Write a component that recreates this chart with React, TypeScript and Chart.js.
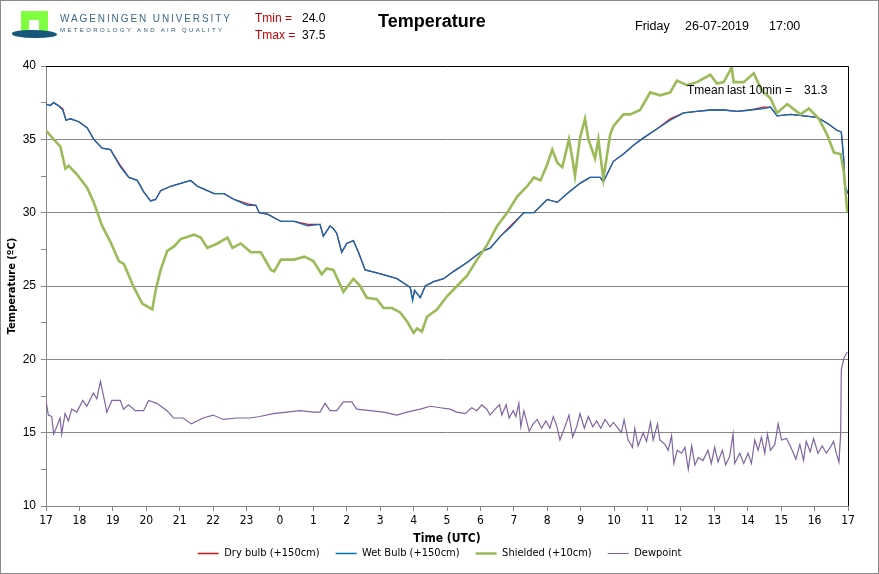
import { useEffect, useRef } from 'react';
import { Chart, registerables } from 'chart.js';

Chart.register(...registerables);

// x positions are hours since 17:00 of the previous day
const hourLabels = ['17', '18', '19', '20', '21', '22', '23', '0', '1', '2', '3', '4', '5', '6', '7', '8', '9', '10', '11', '12', '13', '14', '15', '16', '17'];

const bulbHours = [0, 0.12, 0.23, 0.37, 0.5, 0.6, 0.73, 0.98, 1.23, 1.43, 1.68, 1.93, 2.23, 2.48, 2.73, 2.93, 3.13, 3.28, 3.43, 3.73, 4.03, 4.33, 4.53, 4.73, 5.03, 5.33, 5.63, 6.03, 6.28, 6.38, 6.63, 7.03, 7.43, 7.83, 8.2, 8.3, 8.5, 8.6, 8.7, 8.85, 9.0, 9.2, 9.35, 9.55, 9.9, 10.2, 10.5, 10.7, 10.9, 10.97, 11.03, 11.2, 11.35, 11.6, 11.9, 12.2, 12.6, 13.0, 13.3, 13.6, 13.9, 14.3, 14.6, 15.0, 15.3, 15.6, 15.98, 16.28, 16.58, 16.68, 16.98, 17.28, 17.58, 17.88, 18.28, 18.68, 19.08, 19.48, 19.88, 20.28, 20.68, 21.08, 21.48, 21.68, 21.88, 22.28, 22.68, 23.08, 23.38, 23.68, 23.8, 23.87, 23.9, 24.0];
const dryBulb = [37.4, 37.3, 37.5, 37.3, 37.1, 36.3, 36.4, 36.2, 35.8, 35.0, 34.4, 34.3, 33.2, 32.4, 32.2, 31.4, 30.8, 30.9, 31.5, 31.8, 32.0, 32.2, 31.8, 31.6, 31.3, 31.3, 30.9, 30.6, 30.5, 30.0, 29.9, 29.4, 29.4, 29.2, 29.2, 28.4, 29.1, 28.9, 28.6, 27.3, 27.9, 28.1, 27.3, 26.1, 25.9, 25.7, 25.5, 25.2, 24.9, 24.1, 24.7, 24.2, 25.0, 25.3, 25.5, 26.0, 26.6, 27.3, 27.6, 28.4, 29.1, 30.0, 30.0, 30.9, 30.7, 31.3, 32.0, 32.4, 32.4, 32.1, 33.5, 34.0, 34.6, 35.1, 35.7, 36.4, 36.8, 36.9, 37.0, 37.0, 36.9, 37.0, 37.2, 37.2, 36.6, 36.7, 36.6, 36.5, 36.1, 35.6, 35.5, 33.7, 31.8, 31.3];
const wetBulb = [37.4, 37.3, 37.5, 37.3, 37.0, 36.3, 36.4, 36.2, 35.8, 35.0, 34.4, 34.3, 33.1, 32.4, 32.2, 31.4, 30.8, 30.9, 31.5, 31.8, 32.0, 32.2, 31.8, 31.6, 31.3, 31.3, 30.9, 30.5, 30.5, 30.0, 29.9, 29.4, 29.4, 29.1, 29.2, 28.4, 29.1, 28.9, 28.6, 27.3, 27.9, 28.1, 27.3, 26.1, 25.9, 25.7, 25.5, 25.2, 24.9, 24.0, 24.7, 24.2, 25.0, 25.3, 25.5, 26.0, 26.6, 27.3, 27.6, 28.4, 29.0, 30.0, 30.0, 30.9, 30.7, 31.3, 32.0, 32.4, 32.4, 32.1, 33.5, 34.0, 34.6, 35.1, 35.7, 36.3, 36.8, 36.9, 37.0, 37.0, 36.9, 37.0, 37.1, 37.2, 36.6, 36.7, 36.6, 36.5, 36.1, 35.6, 35.5, 33.7, 31.9, 31.3];

const shieldHours = [0, 0.23, 0.43, 0.58, 0.68, 0.93, 1.23, 1.43, 1.68, 1.93, 2.18, 2.33, 2.63, 2.88, 3.18, 3.28, 3.43, 3.63, 3.83, 4.03, 4.43, 4.63, 4.83, 5.13, 5.43, 5.58, 5.83, 6.13, 6.43, 6.73, 6.83, 7.03, 7.43, 7.73, 8.0, 8.25, 8.4, 8.6, 8.9, 9.2, 9.4, 9.6, 9.9, 10.1, 10.35, 10.6, 10.8, 11.0, 11.1, 11.25, 11.4, 11.7, 12.0, 12.3, 12.6, 12.9, 13.2, 13.5, 13.8, 14.1, 14.4, 14.6, 14.8, 15.0, 15.15, 15.3, 15.45, 15.65, 15.75, 15.83, 15.98, 16.13, 16.23, 16.43, 16.53, 16.68, 16.88, 16.98, 17.28, 17.48, 17.78, 18.08, 18.38, 18.68, 18.88, 19.18, 19.48, 19.88, 20.08, 20.28, 20.52, 20.58, 20.88, 21.18, 21.43, 21.68, 21.88, 22.18, 22.58, 22.83, 23.13, 23.38, 23.58, 23.78, 23.88, 23.98];
const shielded = [35.6, 35.0, 34.5, 33.0, 33.2, 32.6, 31.7, 30.7, 29.1, 28.0, 26.7, 26.5, 24.9, 23.8, 23.4, 24.7, 26.1, 27.4, 27.7, 28.2, 28.5, 28.3, 27.6, 27.9, 28.3, 27.6, 27.9, 27.3, 27.3, 26.1, 26.0, 26.8, 26.8, 27.0, 26.7, 25.8, 26.2, 26.1, 24.6, 25.5, 25.0, 24.2, 24.1, 23.5, 23.5, 23.2, 22.6, 21.8, 22.1, 21.9, 22.9, 23.4, 24.3, 25.0, 25.7, 26.8, 27.8, 29.1, 30.0, 31.1, 31.8, 32.4, 32.2, 33.3, 34.3, 33.4, 33.1, 35.0, 33.7, 32.5, 35.1, 36.4, 35.0, 33.7, 35.0, 32.3, 35.3, 35.9, 36.7, 36.7, 37.0, 38.2, 38.0, 38.2, 39.0, 38.7, 38.9, 39.4, 38.8, 38.9, 39.9, 38.9, 38.9, 39.5, 38.3, 37.8, 36.8, 37.4, 36.7, 37.1, 36.4, 35.3, 34.1, 34.0, 32.7, 30.0];

const dewHours = [
  0, 0.07, 0.17, 0.23, 0.32, 0.42, 0.47, 0.57, 0.67, 0.77, 0.92, 1.1, 1.22, 1.42, 1.52, 1.63, 1.73, 1.82, 1.97, 2.22, 2.32, 2.47, 2.67, 2.92, 3.07, 3.32, 3.62, 3.82, 4.1, 4.35, 4.7, 5.0, 5.3, 5.7, 6.1, 6.4, 6.8, 7.2, 7.6, 8.0, 8.2, 8.35, 8.5, 8.7, 8.9, 9.15, 9.3, 9.7, 10.1, 10.5, 10.8, 11.2, 11.5, 11.8,
  12.09, 12.29, 12.54, 12.74, 12.89, 13.04, 13.19, 13.29, 13.44, 13.57, 13.64, 13.77, 13.86, 13.98, 14.06, 14.15, 14.21, 14.3, 14.46, 14.58, 14.7, 14.83, 14.96, 15.08, 15.18, 15.28, 15.38, 15.53, 15.65, 15.76, 15.88, 15.98, 16.11, 16.23, 16.36, 16.48, 16.6, 16.73, 16.88, 16.98, 17.12, 17.22, 17.3, 17.42, 17.55, 17.62, 17.72,
  17.87, 17.97, 18.09, 18.17, 18.3, 18.37, 18.52, 18.62, 18.72, 18.79, 18.89, 19.02, 19.12, 19.22, 19.32, 19.42, 19.52, 19.66, 19.81, 19.91, 20.01, 20.11, 20.24, 20.34, 20.46, 20.56, 20.61, 20.76, 20.88, 21.01, 21.11, 21.21, 21.31, 21.41, 21.51, 21.59, 21.68, 21.81, 21.91, 22.01, 22.16, 22.31, 22.44, 22.56, 22.67, 22.75, 22.87, 22.97, 23.1, 23.23, 23.35, 23.47, 23.57, 23.65, 23.73, 23.78, 23.8, 23.88, 23.98,
];
const dewpoint = [
  17.2, 16.2, 16.1, 14.9, 15.4, 16.0, 14.9, 16.3, 15.8, 16.6, 16.4, 17.2, 16.8, 17.7, 17.3, 18.5, 17.4, 16.4, 17.2, 17.2, 16.6, 16.9, 16.5, 16.5, 17.2, 17.0, 16.5, 16.0, 16.0, 15.6, 16.0, 16.2, 15.9, 16.0, 16.0, 16.1, 16.3, 16.4, 16.5, 16.4, 16.4, 17.0, 16.5, 16.5, 17.1, 17.1, 16.6, 16.5, 16.4, 16.2, 16.4, 16.6, 16.8, 16.7,
  16.6, 16.4, 16.3, 16.7, 16.5, 16.9, 16.6, 16.2, 16.6, 16.9, 16.2, 16.9, 16.0, 16.5, 16.1, 17.0, 15.4, 16.5, 15.1, 15.6, 15.9, 15.3, 15.8, 15.3, 16.1, 15.5, 14.5, 15.4, 16.2, 14.7, 15.4, 16.3, 15.3, 16.1, 15.4, 15.8, 15.3, 15.9, 15.4, 15.7, 15.3, 15.0, 15.9, 14.5, 14.0, 15.3, 14.1,
  15.0, 14.4, 15.7, 14.5, 15.6, 14.5, 14.2, 13.8, 14.8, 12.9, 13.8, 13.6, 14.0, 12.5, 14.1, 12.8, 13.3, 13.1, 13.8, 12.9, 14.0, 13.0, 13.8, 12.8, 13.4, 14.9, 12.9, 13.6, 12.9, 13.6, 12.9, 14.5, 13.8, 14.7, 13.6, 14.9, 13.8, 14.2, 15.6, 14.5, 14.6, 13.9, 13.2, 14.2, 13.1, 14.4, 13.7, 14.6, 13.6, 14.1, 13.6, 14.0, 14.4, 13.6, 13.0, 14.9, 19.3, 20.1, 20.5,
];

const tMin = '24.0';
const tMax = '37.5';
const tMean = '31.3';

const narrow = "'Liberation Sans Narrow', 'DejaVu Sans Condensed', sans-serif";
const sans = "'Liberation Sans', Arial, sans-serif";
const grey = '#868686';

const pts = (xs: number[], ys: number[]) => xs.map((x, i) => ({ x, y: ys[i] }));

// black top and right border of the plot area; legend centred on the page, not on the padded box
const framePlugin = {
  id: 'frame',
  afterLayout(chart: any) {
    const lg = chart.legend;
    if (!lg) return;
    const shift = chart.width / 2 - (lg.left + lg.right) / 2;
    lg.left += shift;
    lg.right += shift;
  },
  afterDraw(chart: any) {
    const { ctx, chartArea: a } = chart;
    ctx.save();
    ctx.strokeStyle = '#000';
    ctx.lineWidth = 1;
    ctx.beginPath();
    ctx.moveTo(a.left, a.top + 0.5);
    ctx.lineTo(a.right + 0.5, a.top + 0.5);
    ctx.lineTo(a.right + 0.5, a.bottom);
    ctx.stroke();
    ctx.restore();
  },
};

const TemperatureChart = () => {
  const canvasRef = useRef<HTMLCanvasElement>(null);

  useEffect(() => {
    if (!canvasRef.current) return;

    const chart = new Chart(canvasRef.current, {
      type: 'line',
      data: {
        datasets: [
          { label: 'Dry bulb (+150cm)', data: pts(bulbHours, dryBulb), borderColor: '#e0141b', borderWidth: 1.3, order: 4 },
          { label: 'Wet Bulb (+150cm)', data: pts(bulbHours, wetBulb), borderColor: '#0070c0', borderWidth: 1.3, order: 3 },
          { label: 'Shielded (+10cm)', data: pts(shieldHours, shielded), borderColor: '#9bbb59', borderWidth: 2.6, order: 2 },
          { label: 'Dewpoint', data: pts(dewHours, dewpoint), borderColor: '#8064a2', borderWidth: 1.2, order: 1 },
        ],
      },
      options: {
        animation: false,
        responsive: false,
        events: [],
        elements: { point: { radius: 0 }, line: { tension: 0 } },
        layout: { padding: { left: 0, right: 31, top: 66, bottom: 5 } },
        plugins: {
          tooltip: { enabled: false },
          legend: {
            position: 'bottom',
            labels: {
              usePointStyle: true,
              pointStyle: 'line',
              pointStyleWidth: 21,
              padding: 16,
              color: '#000',
              font: { family: narrow, size: 11 },
              sort: (a: any, b: any) => a.datasetIndex - b.datasetIndex,
            },
          },
        },
        scales: {
          x: {
            type: 'linear',
            min: 0,
            max: 24,
            afterFit: (scale: any) => { scale.height = 26; },
            ticks: {
              stepSize: 1,
              autoSkip: false,
              maxRotation: 0,
              padding: 3,
              color: '#000',
              font: { family: narrow, size: 12 },
              callback: (v: any) => hourLabels[v],
            },
            grid: { color: 'rgba(0,0,0,0)', tickColor: grey, tickLength: 5 },
            border: { color: grey },
            title: {
              display: true,
              text: 'Time (UTC)',
              color: '#000',
              font: { family: narrow, size: 12, weight: 'bold' },
              padding: { top: 0, bottom: -14 },
            },
          },
          y: {
            min: 10,
            max: 40,
            afterFit: (scale: any) => { scale.width = 46; },
            ticks: {
              stepSize: 2.5,
              padding: 5,
              color: '#000',
              font: { family: sans, size: 12 },
              callback: (v: any) => (v % 5 === 0 ? String(v) : ''),
            },
            grid: {
              color: (c: any) => (c.tick && c.tick.value > 10 && c.tick.value < 40 && c.tick.value % 5 === 0 ? grey : 'rgba(0,0,0,0)'),
              tickColor: grey,
              tickLength: 5,
            },
            border: { color: grey },
            title: {
              display: true,
              text: 'Temperature (ºC)',
              color: '#000',
              font: { family: narrow, size: 11, weight: 'bold' },
              padding: { top: 6, bottom: 0 },
            },
          },
        },
      },
      plugins: [framePlugin],
    });

    return () => chart.destroy();
  }, []);

  return <canvas ref={canvasRef} width={879} height={574} style={{ position: 'absolute', left: 0, top: 0 }} />;
};

const txt = (left: number, top: number, size: number, extra: any = {}) => ({
  position: 'absolute' as const,
  left,
  top,
  fontSize: size,
  fontFamily: sans,
  lineHeight: 1,
  whiteSpace: 'nowrap' as const,
  ...extra,
});

const App = () => (
  <div style={{ position: 'absolute', left: 0, top: 0, width: 879, height: 574, background: '#fff', overflow: 'hidden' }}>
    <TemperatureChart />

    {/* logo */}
    <div style={{ position: 'absolute', left: 21, top: 11, width: 27, height: 22, background: '#7fff3f' }} />
    <div style={{ position: 'absolute', left: 29, top: 20, width: 10, height: 13, background: '#fff' }} />
    <div style={{ position: 'absolute', left: 12, top: 30, width: 45, height: 8, background: '#17587a', borderRadius: '40% 55% 45% 50%' }} />
    <div style={txt(60, 14, 10, { color: '#3b6887', letterSpacing: 1.9 })}>WAGENINGEN UNIVERSITY</div>
    <div style={txt(60, 27, 6, { color: '#2d5c7c', letterSpacing: 2.4 })}>METEOROLOGY AND AIR QUALITY</div>

    <div style={txt(255, 12, 12, { color: '#c00000' })}>Tmin =</div>
    <div style={txt(302, 12, 12)}>{tMin}</div>
    <div style={txt(255, 29, 12, { color: '#c00000' })}>Tmax =</div>
    <div style={txt(302, 29, 12)}>{tMax}</div>

    <div style={txt(378, 12, 18, { fontWeight: 'bold' })}>Temperature</div>

    <div style={txt(635, 20, 12.5)}>Friday</div>
    <div style={txt(685, 20, 12.5)}>26-07-2019</div>
    <div style={txt(769, 20, 12.5)}>17:00</div>

    <div style={txt(687, 84, 12)}>Tmean</div>
    <div style={txt(727, 84, 12)}>last 10min =</div>
    <div style={txt(804, 84, 12)}>{tMean}</div>

    <div style={{ position: 'absolute', left: 0, top: 0, width: 879, height: 574, boxSizing: 'border-box', border: '1px solid #8a8a8a', pointerEvents: 'none' }} />
  </div>
);

export default App;
